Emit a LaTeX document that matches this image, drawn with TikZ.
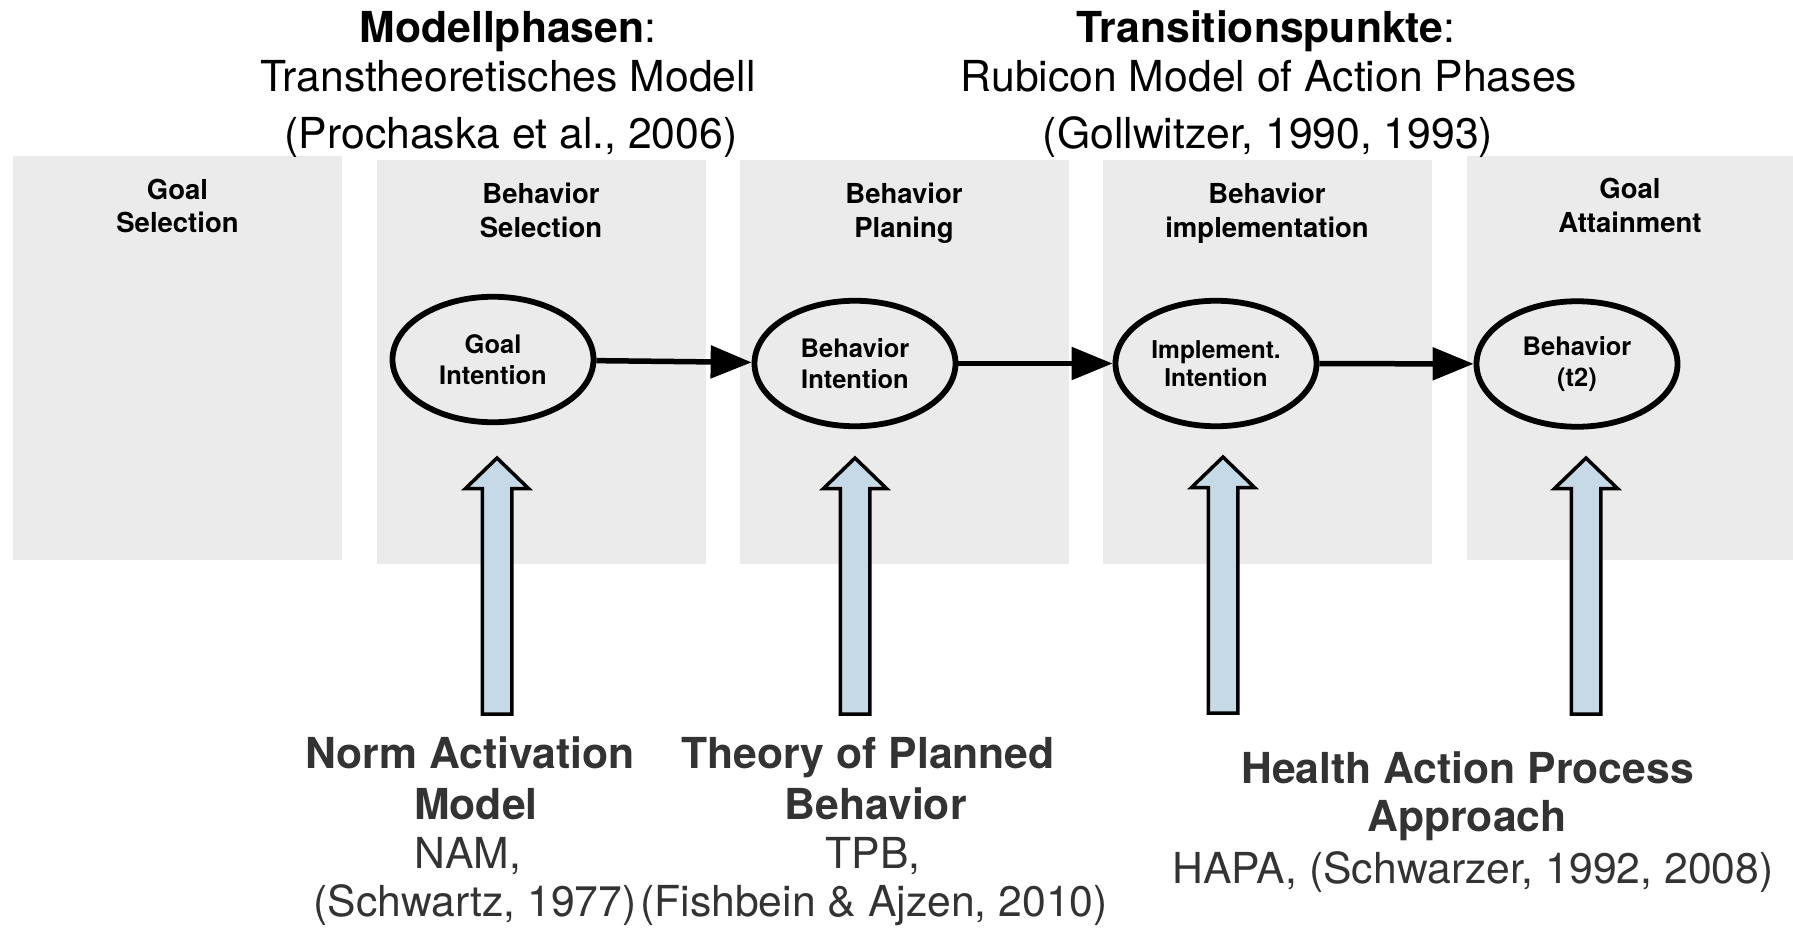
\documentclass[tikz,border=0pt]{standalone}
\usepackage{fontspec}
\setmainfont{TeX Gyre Heros}
\usetikzlibrary{arrows.meta,shapes.geometric}
\definecolor{boxgray}{HTML}{EBEBEB}
\definecolor{arrowblue}{HTML}{C6D9E6}
\definecolor{darktext}{HTML}{333333}
\begin{document}
\begin{tikzpicture}[x=1pt,y=-1pt,
  phase/.style={fill=boxgray, draw=none, inner sep=0pt, outer sep=0pt, anchor=north west},
  ell/.style={ellipse, draw=black, line width=5.8pt, minimum width=201pt, minimum height=125.5pt,
    inner sep=0pt, align=center, font=\fontsize{25.5}{31}\selectfont\bfseries},
  conn/.style={line width=5.5pt, -{Triangle[length=41pt,width=32pt]}},
  lab/.style={anchor=base, inner sep=0pt, outer sep=0pt},
  big/.style={lab, font=\fontsize{42.7}{50}\selectfont},
  bigb/.style={lab, font=\fontsize{42.7}{50}\selectfont\bfseries},
  ptitle/.style={lab, font=\fontsize{27.5}{33}\selectfont\bfseries},
  uparrow/.pic={
    \draw[line width=3.5pt, fill=arrowblue, line join=miter, miter limit=10]
      (-14.75,0) -- (-14.75,-225.5) -- (-31.5,-225.5) -- (0,-256) -- (31.5,-225.5)
      -- (14.75,-225.5) -- (14.75,0) -- cycle;
  }]
\useasboundingbox (0,0) rectangle (1793,928);

% phase boxes
\node[phase, minimum width=329pt, minimum height=403.5pt] (p1) at (13,156.5) {};
\node[phase, minimum width=328.5pt, minimum height=404pt] (p2) at (377,160) {};
\node[phase, minimum width=328.5pt, minimum height=404pt] (p3) at (740,160) {};
\node[phase, minimum width=329pt, minimum height=404pt] (p4) at (1102.5,160) {};
\node[phase, minimum width=326pt, minimum height=404pt] (p5) at (1467,156) {};

% phase titles
\node[ptitle] (p1a) at (177.5,199.3) {Goal};
\node[ptitle] (p1b) at (177.5,233) {Selection};
\node[ptitle] (p2a) at (541,204) {Behavior};
\node[ptitle] (p2b) at (541,237.3) {Selection};
\node[ptitle] (p3a) at (904,204) {Behavior};
\node[ptitle] (p3b) at (904,237.3) {Planing};
\node[ptitle] (p4a) at (1267,204) {Behavior};
\node[ptitle] (p4b) at (1267,237.3) {implementation};
\node[ptitle] (p5a) at (1630,199) {Goal};
\node[ptitle] (p5b) at (1630,232.3) {Attainment};

% headings
\node[big] (t1a) at (508,42.7) {\textbf{Modellphasen}:};
\node[big] (t1b) at (508,91.7) {Transtheoretisches Modell};
\node[big] (t1c) at (511,148.3) {(Prochaska et al., 2006)};
\node[big] (t2a) at (1266,42.7) {\textbf{Transitionspunkte}:};
\node[big] (t2b) at (1269,91.7) {Rubicon Model of Action Phases};
\node[big] (t2c) at (1268,148.3) {(Gollwitzer, 1990, 1993)};

% ellipses
\node[ell] (e1) at (493,359.5) {Goal\\Intention};
\node[ell] (e2) at (855,363.5) {Behavior\\Intention};
\node[ell, font=\fontsize{24.5}{28}\selectfont\bfseries] (e3) at (1216,363.5) {Implement.\\Intention};
\node[ell] (e4) at (1577,364) {Behavior\\(t2)};

\draw[conn] (e1) -- (e2);
\draw[conn] (e2) -- (e3);
\draw[conn] (e3) -- (e4);

% block arrows
\pic (a1) at (497,714) {uparrow};
\pic (a2) at (855,714) {uparrow};
\pic (a3) at (1223,713) {uparrow};
\pic (a4) at (1586,714) {uparrow};

% theories
\begin{scope}[every node/.append style={text=darktext}]
\node[bigb] (n1) at (470,768.3) {Norm Activation};
\node[bigb] (n2) at (476,819) {Model};
\node[big] (n3) at (468,868.3) {NAM,};
\node[big] (n4) at (475,916.7) {(Schwartz, 1977)};
\node[bigb] (b1) at (868,768.3) {Theory of Planned};
\node[bigb] (b2) at (875.7,819) {Behavior};
\node[big] (b3) at (873,868.3) {TPB,};
\node[big] (b4) at (874,916.7) {(Fishbein \& Ajzen, 2010)};
\node[bigb] (h1) at (1467.5,783.3) {Health Action Process};
\node[bigb] (h2) at (1467,831.7) {Approach};
\node[big] (h3) at (1473,883.3) {HAPA, (Schwarzer, 1992, 2008)};
\end{scope}
\end{tikzpicture}
\end{document}
